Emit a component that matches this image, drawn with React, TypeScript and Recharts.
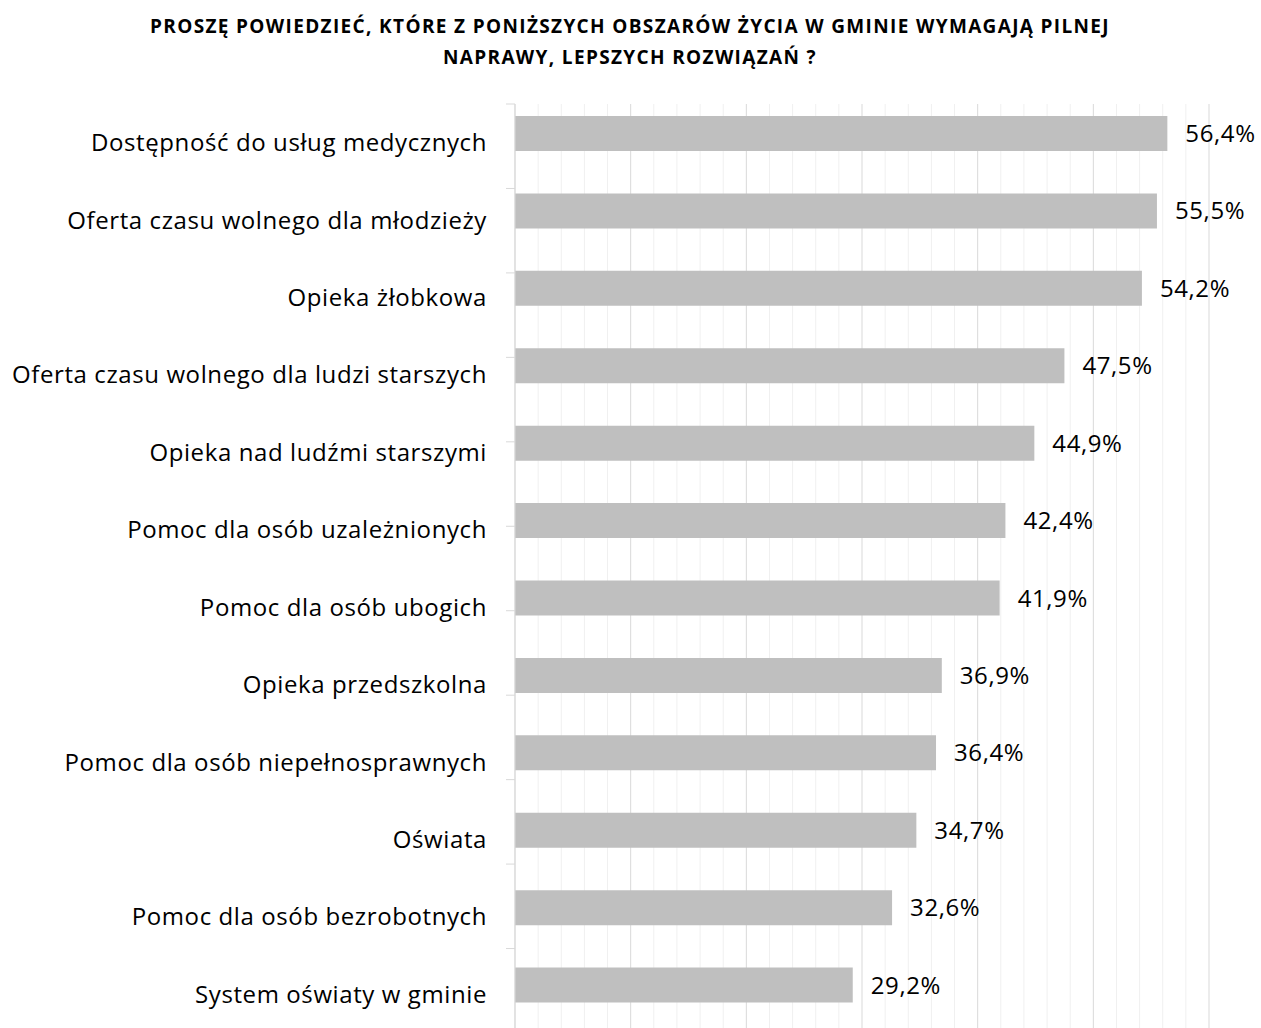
import { BarChart, Bar, XAxis, YAxis, CartesianGrid, LabelList } from "recharts";

const CATEGORIES = [
  "Dostępność do usług medycznych",
  "Oferta czasu wolnego dla młodzieży",
  "Opieka żłobkowa",
  "Oferta czasu wolnego dla ludzi starszych",
  "Opieka nad ludźmi starszymi",
  "Pomoc dla osób uzależnionych",
  "Pomoc dla osób ubogich",
  "Opieka przedszkolna",
  "Pomoc dla osób niepełnosprawnych",
  "Oświata",
  "Pomoc dla osób bezrobotnych",
  "System oświaty w gminie",
];
const VALUES = [56.4, 55.5, 54.2, 47.5, 44.9, 42.4, 41.9, 36.9, 36.4, 34.7, 32.6, 29.2];
const MAJOR_TICKS = [0, 10, 20, 30, 40, 50, 60];
const MINOR_TICKS = [2, 4, 6, 8, 12, 14, 16, 18, 22, 24, 26, 28, 32, 34, 36, 38, 42, 44, 46, 48, 52, 54, 56, 58];
const BAND_EDGES = [0, 1, 2, 3, 4, 5, 6, 7, 8, 9, 10, 11, 12];

const TITLE_1 = "PROSZĘ POWIEDZIEĆ, KTÓRE Z PONIŻSZYCH OBSZARÓW ŻYCIA W GMINIE WYMAGAJĄ PILNEJ";
const TITLE_2 = "NAPRAWY, LEPSZYCH ROZWIĄZAŃ ?";

const FONT = "'Open Sans', 'Noto Sans', sans-serif";

// second, empty series (as in the source chart) pushes the visible bar up in each band
const data = CATEGORIES.map((name, i) => ({ name, value: VALUES[i], empty: null }));

const fmt = (v: number) => v.toFixed(1).replace(".", ",") + "%";

const gridAt = (ticks: number[]) => (props: any) => {
  const xAxis = props.xAxis;
  if (xAxis && typeof xAxis.scale === "function") return ticks.map((t) => xAxis.scale(t));
  const { offset } = props;
  return ticks.map((t) => offset.left + (t / 60) * offset.width);
};

const NoLabel = () => <g />;

export default function App() {
  return (
    <div
      style={{
        position: "relative",
        width: 1261,
        height: 1028,
        overflow: "hidden",
        fontFamily: FONT,
      }}
    >
      <style>{"html,body{margin:0;overflow:hidden}"}</style>
      <div
        style={{
          position: "absolute",
          left: 8,
          top: 11,
          width: 1244,
          textAlign: "center",
          fontWeight: 700,
          fontSize: 19,
          letterSpacing: 1.35,
          lineHeight: "31px",
          color: "#000",
        }}
      >
        <div>{TITLE_1}</div>
        <div>{TITLE_2}</div>
      </div>
      <div style={{ position: "absolute", left: 8, top: 8 }}>
        <BarChart
          width={1253}
          height={1025}
          data={data}
          layout="vertical"
          margin={{ top: 96, right: 52, bottom: 0, left: 0 }}
          barGap={0}
        >
          <XAxis type="number" domain={[0, 60]} ticks={MAJOR_TICKS} hide />
          <CartesianGrid
            horizontal={false}
            stroke="#f0f0f0"
            verticalCoordinatesGenerator={gridAt(MINOR_TICKS)}
          />
          <CartesianGrid
            horizontal={false}
            stroke="#d9d9d9"
            verticalCoordinatesGenerator={gridAt(MAJOR_TICKS)}
          />
          <YAxis
            yAxisId="bands"
            type="number"
            domain={[0, 12]}
            ticks={BAND_EDGES}
            interval={0}
            width={1}
            tick={NoLabel}
            tickSize={9}
            axisLine={{ stroke: "#d9d9d9" }}
            tickLine={{ stroke: "#d9d9d9" }}
          />
          <YAxis
            yAxisId="cat"
            type="category"
            dataKey="name"
            width={506}
            axisLine={false}
            tickLine={false}
            tickSize={0}
            tickMargin={27}
            interval={0}
            tick={{ fill: "#000", fontSize: 24, fontFamily: FONT, letterSpacing: 0.6 }}
          />
          <Bar dataKey="value" yAxisId="cat" barSize={35} fill="#bfbfbf" isAnimationActive={false}>
            <LabelList
              dataKey="value"
              position="right"
              offset={18}
              formatter={(v: number) => fmt(v)}
              style={{ fill: "#000", fontSize: 24, fontFamily: FONT, letterSpacing: 0.6 }}
            />
          </Bar>
          <Bar dataKey="empty" yAxisId="cat" barSize={18} fill="none" isAnimationActive={false} />
        </BarChart>
      </div>
    </div>
  );
}
